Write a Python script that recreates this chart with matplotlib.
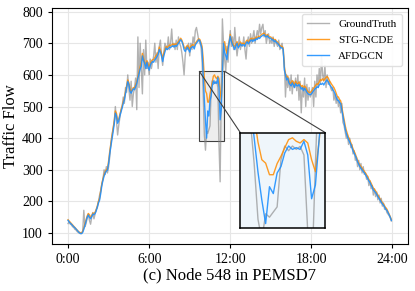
import numpy as np
import matplotlib
matplotlib.use('Agg')
import matplotlib.pyplot as plt
from mpl_toolkits.axes_grid1.inset_locator import mark_inset

plt.rcParams['font.family'] = ['Liberation Serif', 'DejaVu Serif']

# 5-minute samples over one day, one row per hour
ground_truth = [
    130, 136, 128, 126, 120, 118, 112, 110, 105, 102, 100, 98,
    100, 105, 172, 120, 130, 148, 160, 140, 128, 150, 165, 145,
    160, 175, 180, 200, 220, 235, 255, 270, 300, 285, 310, 290,
    310, 340, 385, 410, 430, 450, 500, 455, 410, 440, 465, 490,
    500, 530, 510, 560, 545, 600, 555, 520, 580, 500, 540, 560,
    590, 490, 720, 560, 700, 620, 540, 680, 600, 710, 620, 640,
    600, 650, 620, 640, 660, 700, 640, 670, 620, 690, 710, 660,
    630, 670, 700, 690, 680, 720, 680, 700, 745, 690, 700, 680,
    710, 680, 720, 700, 690, 670, 640, 600, 660, 690, 680, 700,
    660, 700, 680, 720, 700, 740, 750, 730, 710, 700, 690, 640,
    540, 410, 362, 423, 415, 427, 439, 549, 581, 570, 581, 573,
    580, 560, 380, 262, 540, 777, 700, 650, 610, 690, 640, 700,
    740, 690, 720, 680, 750, 700, 660, 690, 720, 680, 700, 690,
    720, 680, 650, 700, 720, 690, 730, 700, 720, 740, 700, 720,
    740, 720, 760, 730, 750, 760, 720, 740, 700, 720, 730, 700,
    710, 700, 720, 690, 710, 700, 690, 710, 680, 690, 700, 670,
    640, 530, 600, 560, 590, 550, 600, 540, 580, 560, 590, 550,
    600, 520, 580, 480, 560, 530, 590, 500, 570, 520, 560, 530,
    540, 560, 500, 580, 530, 600, 560, 620, 570, 660, 600, 580,
    630, 560, 600, 570, 580, 560, 550, 560, 520, 540, 510, 530,
    500, 520, 480, 510, 450, 440, 420, 400, 410, 380, 400, 370,
    380, 350, 360, 330, 340, 310, 330, 300, 320, 290, 310, 285,
    290, 270, 280, 250, 265, 240, 250, 220, 240, 215, 230, 205,
    220, 195, 210, 185, 195, 175, 180, 165, 160, 155, 148, 138,
]

stg_ncde = [
    142, 138, 134, 130, 126, 122, 118, 114, 110, 106, 103, 101,
    100, 106, 116, 130, 142, 154, 162, 158, 150, 155, 163, 162,
    166, 174, 186, 200, 210, 232, 256, 272, 285, 294, 300, 304,
    328, 358, 382, 405, 430, 455, 486, 478, 456, 460, 475, 488,
    500, 515, 528, 548, 566, 584, 575, 556, 548, 553, 560, 558,
    568, 578, 595, 610, 625, 640, 668, 652, 642, 630, 645, 635,
    625, 636, 644, 648, 648, 655, 660, 665, 672, 688, 678, 668,
    652, 668, 680, 690, 686, 690, 694, 692, 695, 698, 694, 698,
    696, 700, 705, 710, 716, 710, 700, 688, 682, 688, 694, 688,
    680, 690, 694, 696, 690, 700, 705, 710, 714, 712, 702, 690,
    650, 590, 549, 541, 514, 514, 540, 557, 577, 596, 600, 592,
    588, 596, 588, 549, 521, 595, 690, 705, 680, 668, 690, 705,
    728, 712, 700, 694, 688, 698, 705, 692, 697, 704, 698, 700,
    700, 696, 706, 710, 704, 708, 714, 716, 710, 716, 713, 720,
    716, 722, 720, 725, 728, 730, 732, 726, 724, 728, 722, 720,
    720, 714, 716, 710, 712, 706, 704, 698, 694, 690, 690, 685,
    625, 605, 590, 596, 582, 576, 572, 582, 575, 568, 580, 573,
    572, 578, 570, 562, 567, 557, 565, 560, 552, 547, 545, 544,
    548, 553, 558, 563, 568, 572, 570, 578, 585, 582, 588, 582,
    588, 592, 595, 590, 582, 576, 570, 565, 560, 552, 542, 532,
    530, 522, 518, 500, 478, 460, 440, 425, 413, 402, 395, 386,
    376, 366, 358, 350, 340, 330, 322, 315, 310, 305, 300, 295,
    290, 284, 278, 270, 265, 258, 250, 242, 238, 233, 226, 220,
    214, 208, 202, 196, 192, 186, 180, 176, 168, 160, 152, 143,
]

afdgcn = [
    140, 135, 131, 128, 124, 120, 117, 113, 109, 105, 101, 99,
    98, 102, 112, 125, 138, 150, 157, 150, 145, 152, 160, 158,
    162, 170, 182, 195, 204, 225, 250, 267, 280, 290, 296, 299,
    320, 350, 373, 398, 420, 445, 479, 470, 447, 455, 470, 482,
    495, 510, 521, 540, 560, 579, 570, 548, 542, 550, 556, 553,
    563, 572, 590, 603, 618, 627, 660, 645, 637, 620, 640, 625,
    615, 630, 638, 642, 640, 648, 652, 658, 665, 680, 672, 660,
    642, 660, 672, 685, 680, 683, 688, 686, 690, 692, 688, 693,
    690, 695, 700, 705, 711, 706, 695, 680, 674, 682, 688, 680,
    672, 685, 688, 690, 682, 695, 700, 705, 711, 708, 695, 680,
    600, 520, 455, 400, 486, 470, 518, 533, 565, 581, 573, 577,
    573, 592, 560, 458, 490, 600, 700, 672, 660, 648, 680, 700,
    722, 705, 695, 688, 680, 692, 700, 685, 690, 698, 692, 695,
    695, 690, 700, 705, 698, 703, 708, 711, 705, 712, 708, 715,
    712, 718, 715, 720, 723, 725, 727, 722, 720, 724, 718, 716,
    716, 710, 712, 705, 708, 702, 700, 695, 690, 685, 686, 680,
    616, 600, 584, 590, 575, 570, 565, 575, 568, 560, 572, 566,
    565, 570, 563, 555, 560, 550, 558, 552, 545, 540, 538, 537,
    540, 545, 550, 555, 558, 562, 560, 568, 572, 570, 574, 568,
    575, 580, 584, 578, 570, 565, 560, 553, 548, 540, 530, 520,
    520, 512, 510, 490, 468, 450, 430, 415, 405, 395, 388, 380,
    370, 360, 352, 345, 335, 325, 318, 310, 305, 300, 295, 290,
    285, 278, 272, 265, 260, 252, 245, 236, 232, 228, 222, 215,
    210, 204, 198, 192, 188, 182, 175, 172, 165, 158, 150, 140,
]

tick_hours = [0, 6, 12, 18, 24]
tick_labels = ['0:00', '6:00', '12:00', '18:00', '24:00']

hours = np.arange(len(afdgcn)) * 5 / 60

fig = plt.figure(figsize=(4.15, 2.91), dpi=100)
ax = fig.add_axes([0.125, 0.16, 0.857, 0.812])

def draw(a):
    a.plot(hours, ground_truth, color='gray', alpha=0.6, lw=1, label='GroundTruth')
    a.plot(hours, stg_ncde, color='darkorange', alpha=0.85, lw=1, label='STG-NCDE')
    a.plot(hours, afdgcn, color='dodgerblue', alpha=0.9, lw=1, label='AFDGCN')

draw(ax)
ax.grid(True, color='#e6e6e6', lw=0.8)
ax.set_axisbelow(True)
ax.set_xticks(tick_hours)
ax.set_xticklabels(tick_labels)
ax.set_yticks([100, 200, 300, 400, 500, 600, 700, 800])
ax.tick_params(labelsize=10, length=3)
ax.set_ylabel('Traffic Flow', fontsize=12, labelpad=2)
ax.set_xlabel('(c) Node 548 in PEMSD7', fontsize=12, labelpad=1)
ax.legend(loc='upper right', fontsize=8, framealpha=0.9, edgecolor='#dddddd',
          handlelength=2.0, borderpad=0.5, labelspacing=0.55)

# zoomed view of the midday dip
axins = ax.inset_axes([0.530, 0.070, 0.239, 0.403])
draw(axins)
axins.set_facecolor('#eff6fb')
axins.set_xlim(9.7, 11.55)
axins.set_ylim(390, 612)
axins.set_xticks([])
axins.set_yticks([])
for s in axins.spines.values():
    s.set_linewidth(1.1)
mark_inset(ax, axins, loc1=2, loc2=1, fc='0.93', ec='0.25', lw=0.8)

fig.savefig('out.png', dpi=100)
